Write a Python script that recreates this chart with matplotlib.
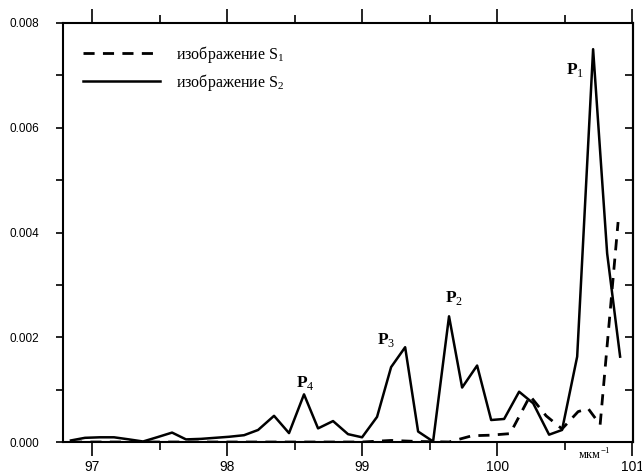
import matplotlib
matplotlib.use("Agg")
import matplotlib.pyplot as plt
from matplotlib.ticker import MultipleLocator, FormatStrFormatter

# wavenumber grid, мкм^-1
x_s2 = [96.844, 96.948, 97.059, 97.163, 97.274, 97.378, 97.481, 97.593, 97.696,
        97.807, 97.911, 98.015, 98.126, 98.230, 98.348, 98.459, 98.570, 98.674,
        98.785, 98.896, 99.000, 99.111, 99.215, 99.319, 99.415, 99.526, 99.644,
        99.741, 99.852, 99.956, 100.052, 100.163, 100.267, 100.385, 100.481,
        100.593, 100.711, 100.815, 100.911]
y_s2 = [0.03, 0.08, 0.09, 0.09, 0.05, 0.01, 0.09, 0.18, 0.05,
        0.06, 0.08, 0.10, 0.13, 0.23, 0.50, 0.17, 0.91, 0.26,
        0.40, 0.15, 0.09, 0.48, 1.43, 1.81, 0.20, 0.01, 2.40,
        1.04, 1.46, 0.42, 0.44, 0.96, 0.74, 0.14, 0.23,
        1.63, 7.50, 3.60, 1.63]

x_s1 = [96.844, 97.059, 97.274, 97.481, 97.696, 97.911, 98.126, 98.348, 98.570,
        98.785, 99.000, 99.215, 99.415, 99.644, 99.815, 99.948, 100.096, 100.244,
        100.363, 100.481, 100.600, 100.674, 100.763, 100.896]
y_s1 = [0.0, 0.0, 0.0, 0.0, 0.0, 0.0, 0.0, 0.0, 0.0,
        0.0, 0.0, 0.03, 0.01, 0.0, 0.12, 0.13, 0.16, 0.88,
        0.50, 0.25, 0.58, 0.64, 0.33, 4.20]

y_s2 = [v * 1e-3 for v in y_s2]
y_s1 = [v * 1e-3 for v in y_s1]

peaks = ["P$_1$", "P$_2$", "P$_3$", "P$_4$"]
peak_x = [100.578, 99.68, 99.18, 98.58]
peak_y = [7.10e-3, 2.75e-3, 1.95e-3, 1.13e-3]

SERIF = "Liberation Serif"
SANS = "Liberation Sans"
plt.rcParams["mathtext.fontset"] = "custom"
plt.rcParams["mathtext.rm"] = SERIF
plt.rcParams["mathtext.bf"] = SERIF + ":bold"

fig = plt.figure(figsize=(6.42, 4.76), dpi=100)
ax = fig.add_axes([0.0981, 0.0714, 0.888, 0.8803])

ax.plot(x_s1, y_s1, color="black", lw=2.0, ls=(0, (4, 3)), label="изображение S$_1$")
ax.plot(x_s2, y_s2, color="black", lw=1.8, label="изображение S$_2$")

for t, px, py in zip(peaks, peak_x, peak_y):
    ax.text(px, py, t, family=SERIF, fontsize=12.5, fontweight="bold",
            ha="center", va="center")

ax.text(100.72, -0.0001, "мкм$^{-1}$", family=SERIF, fontsize=9,
        ha="center", va="top")

ax.set_xlim(96.785, 101.007)
ax.set_ylim(0, 0.008)

ax.xaxis.set_major_locator(MultipleLocator(1))
ax.xaxis.set_minor_locator(MultipleLocator(0.5))
ax.yaxis.set_major_locator(MultipleLocator(0.002))
ax.yaxis.set_minor_locator(MultipleLocator(0.001))
ax.yaxis.set_major_formatter(FormatStrFormatter("%.3f"))

ax.tick_params(axis="x", which="both", direction="out", top=True, width=1.2,
               labelsize=10, pad=3)
ax.tick_params(axis="x", which="major", length=10)
ax.tick_params(axis="x", which="minor", length=6)
ax.tick_params(axis="y", which="both", direction="out", right=False, length=5,
               width=1.2, labelsize=8.5, pad=12)
for lab in ax.get_xticklabels() + ax.get_yticklabels():
    lab.set_family(SANS)

sec = ax.secondary_yaxis("right")
sec.yaxis.set_major_locator(MultipleLocator(0.001))
sec.tick_params(direction="in", length=6, width=1.2, labelright=False)
sec.spines["right"].set_linewidth(1.5)

for s in ax.spines.values():
    s.set_linewidth(1.5)

ax.legend(loc="upper left", bbox_to_anchor=(0.01, 0.985), frameon=False,
          handlelength=4.8, handletextpad=1.0, labelspacing=0.45,
          prop={"family": SERIF, "size": 11.5})

fig.savefig("out.png", dpi=100)
